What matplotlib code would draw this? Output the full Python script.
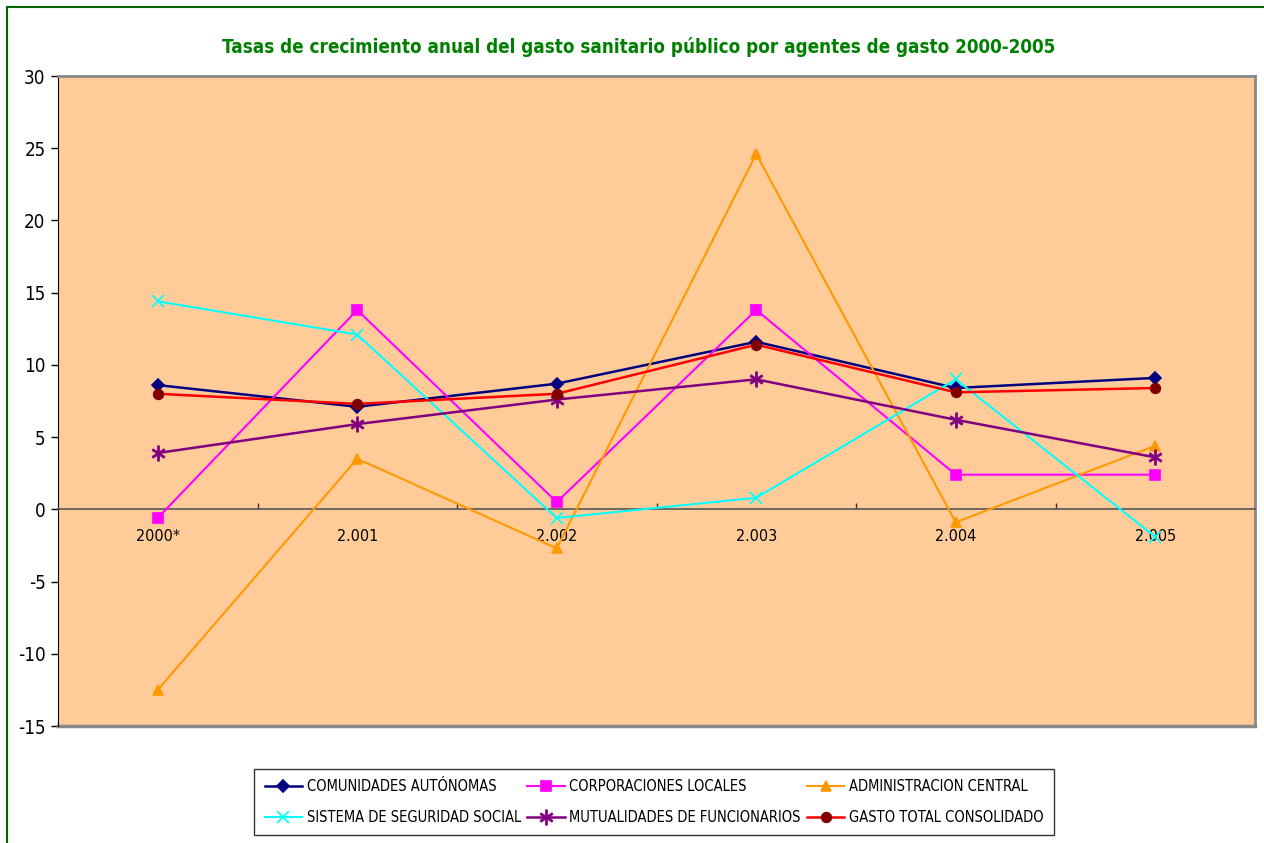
import matplotlib
matplotlib.use("Agg")
import matplotlib.pyplot as plt
from matplotlib.patches import Rectangle
from matplotlib import font_manager

names = {f.name for f in font_manager.fontManager.ttflist}
if 'Liberation Sans Narrow' in names:
    FAM = ['Liberation Sans Narrow', 'DejaVu Sans']
    STRETCH = 'normal'
else:
    FAM = ['DejaVu Sans']
    STRETCH = 'condensed'
plt.rcParams['font.family'] = FAM
plt.rcParams['font.stretch'] = STRETCH
plt.rcParams['axes.unicode_minus'] = False

categories = ["2000*", "2.001", "2.002", "2.003", "2.004", "2.005"]
comunidades = [8.6, 7.1, 8.7, 11.6, 8.4, 9.1]
corporaciones = [-0.6, 13.8, 0.5, 13.8, 2.4, 2.4]
administracion = [-12.5, 3.5, -2.7, 24.6, -0.9, 4.4]
seguridad_social = [14.4, 12.1, -0.6, 0.8, 9.0, -1.9]
mutualidades = [3.9, 5.9, 7.6, 9.0, 6.2, 3.6]
gasto_total = [8.0, 7.3, 8.0, 11.4, 8.1, 8.4]

series = [
    ("COMUNIDADES AUTÓNOMAS", comunidades, "#000080", "D", "#000080"),
    ("CORPORACIONES LOCALES", corporaciones, "#FF00FF", "s", "#FF00FF"),
    ("ADMINISTRACION CENTRAL", administracion, "#FF9900", "^", "#FF9900"),
    ("SISTEMA DE SEGURIDAD SOCIAL", seguridad_social, "#00FFFF", "x", "#00FFFF"),
    ("MUTUALIDADES DE FUNCIONARIOS", mutualidades, "#800080", "$\\ast$", "#800080"),
    ("GASTO TOTAL CONSOLIDADO", gasto_total, "#FF0000", "o", "#800000"),
]

fig = plt.figure(figsize=(12.64, 8.43), dpi=100)
fig.patches.append(Rectangle((7/1264, -0.01), 1.02, 1 - 7/843 + 0.01,
                             transform=fig.transFigure, fill=False,
                             edgecolor="#006400", lw=1.5, zorder=0))

ax = fig.add_axes([58/1264, 117/843, 1197/1264, 650/843])
ax.set_facecolor("#FFCC99")
x = list(range(len(categories)))
for name, vals, col, mk, mcol in series:
    ms = 7
    if mk == "D":
        ms = 6
    if mk == "$\\ast$":
        ms = 11
    if mk == "x":
        ms = 9
    ax.plot(x, vals, color=col, lw=1.5 if col not in ("#000080", "#800080", "#FF0000") else 1.8,
            marker=mk, markersize=ms, markerfacecolor=mcol, markeredgecolor=mcol,
            markeredgewidth=1.2 if mk != "$\\ast$" else 0.6, label=name, clip_on=False, zorder=3)

ax.set_xlim(-0.5, len(categories) - 0.5)
ax.set_ylim(-15, 30)
ax.set_yticks(range(-15, 31, 5))
ax.tick_params(axis='y', direction='out', length=5, width=1, labelsize=13.5, pad=4)
ax.spines['left'].set_color('black')
for s in ('top', 'right'):
    ax.spines[s].set_color('#888888')
    ax.spines[s].set_linewidth(2)
ax.spines['bottom'].set_position(('data', 0))
ax.spines['bottom'].set_color('#555555')
ax.spines['bottom'].set_linewidth(1.2)
ax.axhline(-15, color='#888888', lw=2.5, clip_on=False, zorder=2)
ax.set_xticks(x)
ax.set_xticklabels(categories)
ax.tick_params(axis='x', which='major', length=0, labelsize=11.5, pad=14)
ax.set_xticks([i + 0.5 for i in x[:-1]], minor=True)
ax.tick_params(axis='x', which='minor', direction='in', length=4, width=1, color='#333333')
for lab in ax.get_xticklabels():
    lab.set_zorder(1)

fig.text(0.5 * (258 + 1020) / 1264, 1 - 47 / 843,
         "Tasas de crecimiento anual del gasto sanitario público por agentes de gasto 2000-2005",
         ha='center', va='center', color='#008000', fontsize=13.5, fontweight='bold')

handles, labels = ax.get_legend_handles_labels()
order = [0, 3, 1, 4, 2, 5]
leg = fig.legend([handles[i] for i in order], [labels[i] for i in order], ncol=3, loc='center',
                 bbox_to_anchor=(654 / 1264, 1 - 802 / 843),
                 fontsize=10.5, frameon=True, fancybox=False, edgecolor='black',
                 handlelength=2.6, handletextpad=0.3, columnspacing=0.4,
                 labelspacing=1.1, borderpad=0.7)
leg.get_frame().set_linewidth(1.0)

fig.savefig("out.png", dpi=100)
